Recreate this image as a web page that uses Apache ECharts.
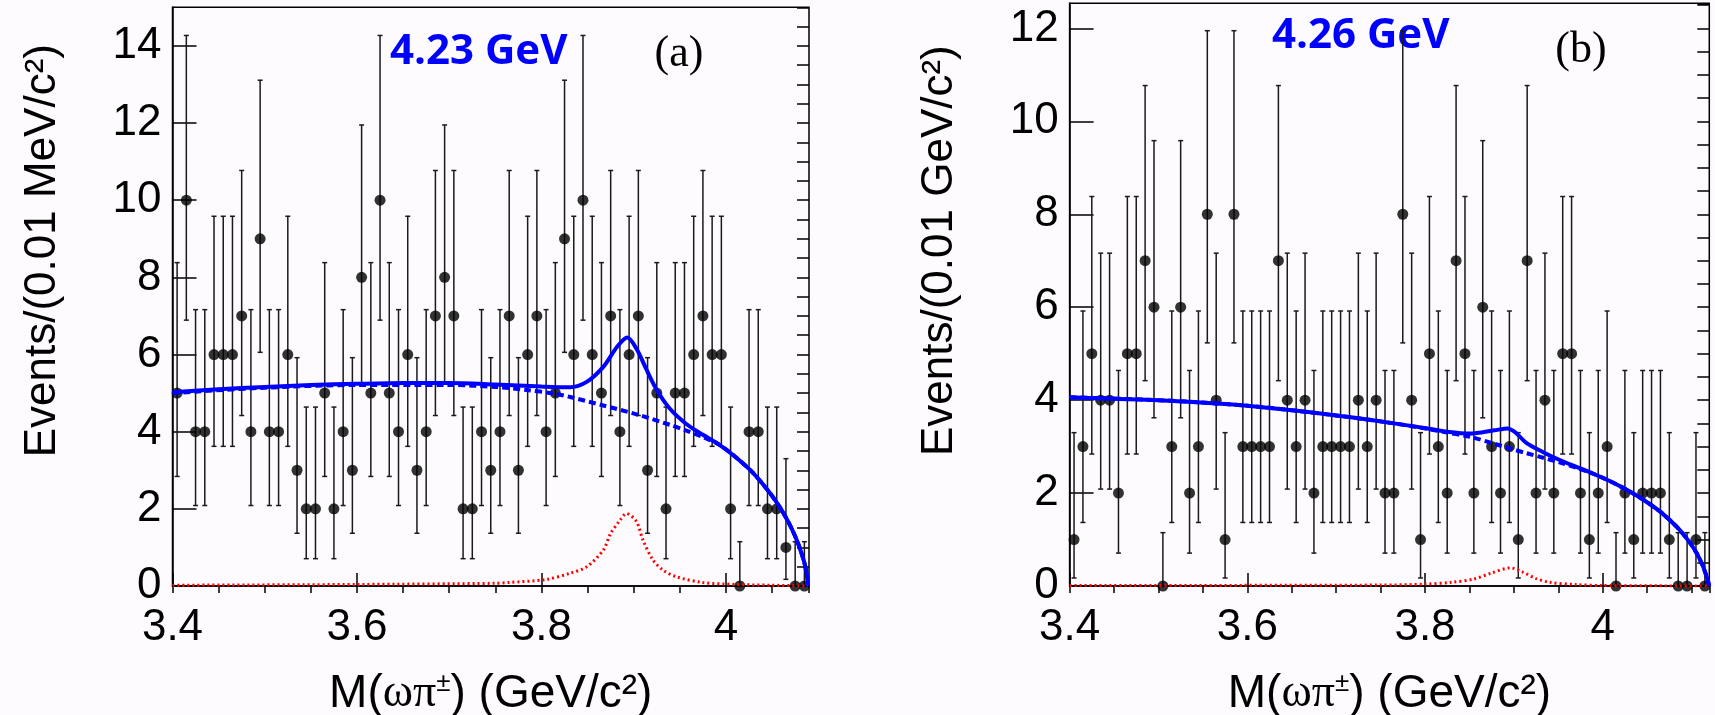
<!DOCTYPE html>
<html>
<head>
<meta charset="utf-8">
<script src="https://cdn.jsdelivr.net/npm/echarts@6/dist/echarts.min.js"></script>
<style>
  html, body { margin: 0; padding: 0; background: #fdfbfd; }
  #container { width: 1715px; height: 715px; }
</style>
</head>
<body>
<div id="container"></div>
<script>
var dom = document.getElementById("container");
var myChart = echarts.init(dom);

// histogram binning (GeV/c^2)
var binStart = 3.40;
var binWidth = 0.01;

// events per bin, 4.23 GeV (69 bins, 3.40 - 4.09)
var countsA = [5, 10, 4, 4, 6, 6, 6, 7, 4, 9, 4, 4, 6, 3, 2, 2, 5, 2, 4, 3,
               8, 5, 10, 5, 4, 6, 3, 4, 7, 8, 7, 2, 2, 4, 3, 4, 7, 3, 6, 7,
               4, 5, 9, 6, 10, 6, 5, 7, 4, 6, 7, 3, 5, 2, 5, 5, 6, 7, 6, 6,
               2, 0, 4, 4, 2, 2, 1, 0, 0];

// events per bin, 4.26 GeV (72 bins, 3.40 - 4.12)
var countsB = [1, 3, 5, 4, 4, 2, 5, 5, 7, 6, 0, 3, 6, 2, 3, 8, 4, 1, 8, 3,
               3, 3, 3, 7, 4, 3, 4, 2, 3, 3, 3, 3, 4, 3, 4, 2, 2, 8, 4, 1,
               5, 3, 2, 7, 5, 2, 6, 3, 2, 3, 1, 7, 2, 4, 2, 5, 5, 2, 1, 2,
               3, 0, 2, 1, 2, 2, 2, 1, 0, 0, 1, 0];

// 68.3% Poisson intervals used for the error bars, indexed by count
var poissonLo = [0, 0.173, 0.708, 1.367, 2.086, 2.840, 3.620, 4.419, 5.232, 6.057, 6.891];
var poissonHi = [1.148, 3.300, 4.638, 5.918, 7.163, 8.382, 9.584, 10.77, 11.95, 13.11, 14.27];

// fit curves, [mass, events]
var totalA = [[3.40, 5.02], [3.45, 5.10], [3.50, 5.16], [3.55, 5.21], [3.60, 5.24],
              [3.65, 5.26], [3.70, 5.26], [3.75, 5.22], [3.80, 5.17], [3.831, 5.15],
              [3.849, 5.29], [3.867, 5.68], [3.882, 6.20], [3.893, 6.44], [3.903, 6.15],
              [3.914, 5.60], [3.925, 5.08], [3.939, 4.60], [3.957, 4.20], [3.975, 3.92],
              [3.993, 3.66], [4.011, 3.33], [4.029, 2.94], [4.047, 2.43], [4.060, 1.98],
              [4.071, 1.50], [4.079, 1.05], [4.085, 0.60], [4.088, 0.25], [4.089, 0]];
var bkgA = [[3.40, 5.00], [3.50, 5.14], [3.60, 5.21], [3.70, 5.21], [3.75, 5.16],
            [3.784, 5.08], [3.813, 4.99], [3.831, 4.90], [3.867, 4.68], [3.903, 4.45],
            [3.939, 4.18], [3.957, 4.03], [3.975, 3.86], [3.993, 3.66], [4.011, 3.33],
            [4.029, 2.94], [4.047, 2.43], [4.060, 1.98], [4.071, 1.50], [4.079, 1.05],
            [4.085, 0.60], [4.088, 0.25], [4.089, 0]];
var sigA = [[3.40, 0.02], [3.60, 0.04], [3.75, 0.07], [3.764, 0.09], [3.805, 0.17],
            [3.831, 0.33], [3.849, 0.50], [3.867, 0.93], [3.875, 1.36], [3.885, 1.70],
            [3.892, 1.88], [3.903, 1.67], [3.910, 1.19], [3.921, 0.67], [3.932, 0.41],
            [3.946, 0.24], [3.975, 0.09], [4.01, 0.04], [4.05, 0.02], [4.089, 0]];

var totalB = [[3.40, 4.06], [3.45, 4.03], [3.50, 4.00], [3.566, 3.93], [3.60, 3.88],
              [3.656, 3.77], [3.70, 3.67], [3.733, 3.59], [3.765, 3.50], [3.803, 3.39],
              [3.825, 3.32], [3.851, 3.28], [3.878, 3.35], [3.893, 3.39], [3.902, 3.30],
              [3.914, 3.08], [3.933, 2.88], [3.953, 2.70], [3.971, 2.56], [3.990, 2.41],
              [4.009, 2.25], [4.028, 2.06], [4.047, 1.84], [4.066, 1.58], [4.084, 1.26],
              [4.097, 0.96], [4.106, 0.70], [4.113, 0.42], [4.117, 0.20], [4.120, 0]];
var bkgB = [[3.40, 4.06], [3.50, 4.00], [3.60, 3.88], [3.70, 3.67], [3.765, 3.50],
            [3.803, 3.38], [3.825, 3.30], [3.851, 3.21], [3.878, 3.06], [3.899, 2.94],
            [3.914, 2.86], [3.933, 2.76], [3.953, 2.65], [3.971, 2.54], [3.990, 2.41],
            [4.009, 2.25], [4.028, 2.06], [4.047, 1.84], [4.066, 1.58], [4.084, 1.26],
            [4.097, 0.96], [4.106, 0.70], [4.113, 0.42], [4.117, 0.20], [4.120, 0]];
var sigB = [[3.40, 0.01], [3.75, 0.02], [3.80, 0.04], [3.83, 0.08], [3.855, 0.15],
            [3.875, 0.28], [3.896, 0.39], [3.910, 0.30], [3.925, 0.16], [3.94, 0.08],
            [3.97, 0.03], [4.00, 0.01], [4.12, 0]];

var labelFont = 'Liberation Sans';

function points(counts) {
    return counts.map(function (n, k) {
        return [binStart + binWidth * (k + 0.5), n];
    });
}
function errors(counts) {
    return counts.map(function (n, k) {
        return [binStart + binWidth * (k + 0.5), poissonLo[n], poissonHi[n]];
    });
}

function renderErr(params, api) {
    var x = api.value(0);
    var top = api.coord([x, api.value(2)]);
    var bot = api.coord([x, api.value(1)]);
    var st = { stroke: '#1a1a1a', lineWidth: 1.5 };
    var c = 2.5;
    return {
        type: 'group',
        children: [
            { type: 'line', shape: { x1: top[0], y1: top[1], x2: bot[0], y2: bot[1] }, style: st },
            { type: 'line', shape: { x1: top[0] - c, y1: top[1], x2: top[0] + c, y2: top[1] }, style: st },
            { type: 'line', shape: { x1: bot[0] - c, y1: bot[1], x2: bot[0] + c, y2: bot[1] }, style: st }
        ]
    };
}

var xTitle = 'M({g|ωπ}{s|±}) (GeV/c²)';
var titleRich = {
    g: { fontFamily: 'Liberation Serif', fontSize: 46, color: '#000' },
    s: { fontFamily: labelFont, fontSize: 26, color: '#000', verticalAlign: 'top', lineHeight: 46 }
};

function majorX(grid, max) {
    return {
        type: 'value', gridIndex: grid, min: 3.4, max: max, interval: 0.2,
        name: xTitle, nameLocation: 'middle', nameGap: 85,
        nameTextStyle: { fontFamily: labelFont, fontSize: 46, color: '#000', rich: titleRich },
        axisLine: { onZero: false, lineStyle: { color: '#000', width: 1.5 } },
        axisTick: { inside: true, length: 13, lineStyle: { color: '#000', width: 1.5 } },
        axisLabel: { showMaxLabel: false, margin: 20, fontFamily: labelFont, fontSize: 44, color: '#000' },
        splitLine: { show: false }
    };
}
function minorX(grid, max) {
    return {
        type: 'value', gridIndex: grid, min: 3.4, max: max, interval: 0.05,
        axisLine: { show: false },
        axisTick: { inside: true, length: 7, lineStyle: { color: '#000', width: 1.5 } },
        axisLabel: { show: false },
        splitLine: { show: false }
    };
}
function majorY(grid, max, name, shift) {
    return {
        type: 'value', gridIndex: grid, min: 0, max: max, interval: 2,
        name: name, nameLocation: 'middle', nameGap: 108,
        nameTextStyle: { fontFamily: labelFont, fontSize: 44, color: '#000', padding: [0, 0, 0, shift] },
        axisLine: { lineStyle: { color: '#000', width: 1.5 } },
        axisTick: { inside: true, length: 24, lineStyle: { color: '#000', width: 1.5 } },
        axisLabel: { showMaxLabel: false, margin: 11, fontFamily: labelFont, fontSize: 44, color: '#000' },
        splitLine: { show: false }
    };
}
function minorY(grid, max) {
    return {
        type: 'value', gridIndex: grid, min: 0, max: max, interval: 0.5,
        axisLine: { show: false },
        axisTick: { inside: true, length: 12, lineStyle: { color: '#000', width: 1.5 } },
        axisLabel: { show: false },
        splitLine: { show: false }
    };
}

function panelSeries(ax, counts, total, bkg, sig) {
    var base = { xAxisIndex: ax, yAxisIndex: ax, animation: false };
    return [
        Object.assign({ type: 'custom', renderItem: renderErr, data: errors(counts), z: 2 }, base),
        Object.assign({ type: 'scatter', data: points(counts), symbolSize: 11,
            itemStyle: { color: '#000' }, z: 3 }, base),
        Object.assign({ type: 'line', data: bkg, showSymbol: false, smooth: 0.3,
            lineStyle: { color: '#0000ff', width: 4, type: [7, 4] }, z: 4 }, base),
        Object.assign({ type: 'line', data: total, showSymbol: false, smooth: 0.3,
            lineStyle: { color: '#0000ff', width: 4 }, z: 5 }, base),
        Object.assign({ type: 'line', data: sig, showSymbol: false, smooth: 0.3,
            lineStyle: { color: '#ff0000', width: 3, type: [2, 3] }, z: 6 }, base)
    ];
}

option = {
    backgroundColor: '#fdfbfd',
    animation: false,
    grid: [
        { left: 172.5, top: 7.3, width: 636.5, height: 578.7, show: true, outerBoundsMode: 'none',
          borderColor: '#000', borderWidth: 1.5, backgroundColor: 'transparent' },
        { left: 1069.6, top: 3.3, width: 639.7, height: 582.7, show: true, outerBoundsMode: 'none',
          borderColor: '#000', borderWidth: 1.5, backgroundColor: 'transparent' }
    ],
    xAxis: [majorX(0, 4.09), majorX(1, 4.12), minorX(0, 4.09), minorX(1, 4.12)],
    yAxis: [majorY(0, 15, 'Events/(0.01 MeV/c²)', 92), majorY(1, 12.54, 'Events/(0.01 GeV/c²)', 88),
            minorY(0, 15), minorY(1, 12.54)],
    graphic: [
        { type: 'text', x: 390, y: 52, style: { text: '4.23 GeV', fill: '#0000ff',
            font: 'bold 42px "Open Sans"', verticalAlign: 'middle' } },
        { type: 'text', x: 679, y: 54, style: { text: '(a)', fill: '#000',
            font: '44px "Liberation Serif"', align: 'center', verticalAlign: 'middle' } },
        { type: 'text', x: 1272, y: 36, style: { text: '4.26 GeV', fill: '#0000ff',
            font: 'bold 42px "Open Sans"', verticalAlign: 'middle' } },
        { type: 'text', x: 1581, y: 50, style: { text: '(b)', fill: '#000',
            font: '44px "Liberation Serif"', align: 'center', verticalAlign: 'middle' } }
    ],
    series: panelSeries(0, countsA, totalA, bkgA, sigA).concat(panelSeries(1, countsB, totalB, bkgB, sigB))
};

if (option && typeof option === "object") {
    myChart.setOption(option, false);
}
</script>
</body>
</html>
